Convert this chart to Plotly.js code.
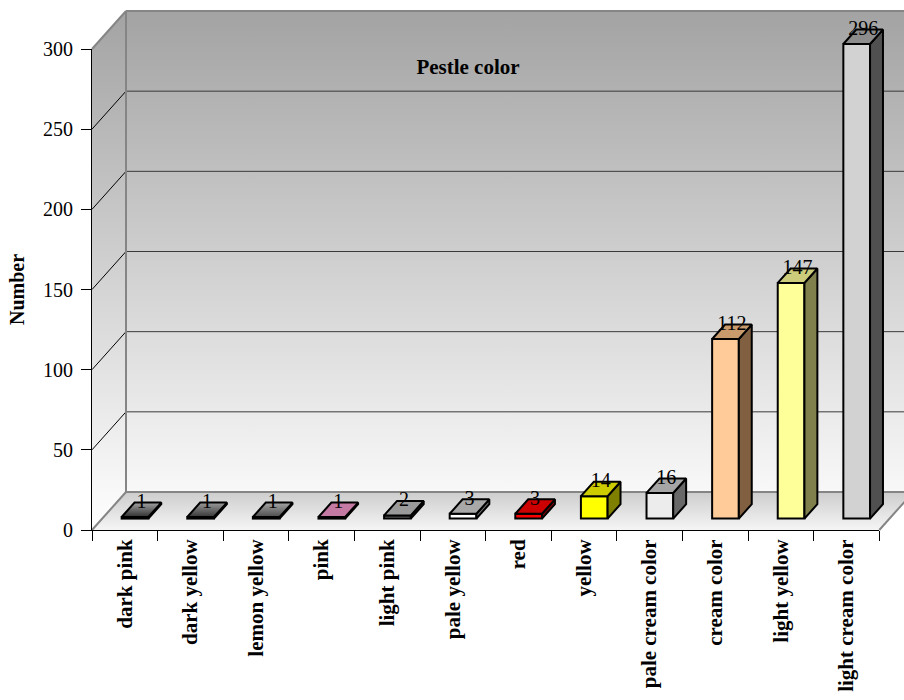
<!DOCTYPE html>
<html>
<head>
<meta charset="utf-8">
<script src="https://cdn.plot.ly/plotly-3.0.1.min.js"></script>
<style>
  html, body { margin: 0; padding: 0; background: #ffffff; }
  #chart { width: 904px; height: 700px; }
</style>
</head>
<body>
<div id="chart"></div>
<script>
// Pestle colour counts
const categories = ['dark pink', 'dark yellow', 'lemon yellow', 'pink', 'light pink', 'pale yellow',
                    'red', 'yellow', 'pale cream color', 'cream color', 'light yellow', 'light cream color'];
const counts = [1, 1, 1, 1, 2, 3, 3, 14, 16, 112, 147, 296];
const valueTicks = [0, 50, 100, 150, 200, 250, 300];

// Face colours of each 3-D bar: front, top (solid or [front edge, back edge] shade), side
const frontColors = ['#2c2c2c', '#2c2c2c', '#363636', '#e08cb8', '#7a7a7a', '#ffffff',
                     '#ff0000', '#ffff00', '#ececec', '#ffcc99', '#ffff99', '#d2d2d2'];
const topColors = [['#303030', '#a2a2a2'], ['#363636', '#9c9c9c'], ['#4c4c4c', '#a6a6a6'], '#c47aa2',
                   '#9a9a9a', '#a8a8a8', '#cc0000', '#cccc00', '#a6a6a6', '#c99a6c', '#cccc7a', '#8c8c8c'];
const sideColors = ['#1c1c1c', '#1c1c1c', '#242424', '#7a4560', '#4a4a4a', '#6c6c6c',
                    '#800000', '#808000', '#686868', '#806040', '#80804c', '#505050'];

const FONT = 'Liberation Serif, "Times New Roman", serif';

// ---- page geometry (pixels) ----
const W = 904, H = 700;
const FRONT_LEFT = 92, FRONT_RIGHT = 879.3;   // front edge of the floor
const ZERO_Y = 530, TOP_Y = 49;              // front value axis, 0 and max
const DEPTH_X = 34, DEPTH_Y = 38;            // oblique depth of the box
const PAD = 4;                               // room around the box for edge strokes

const n = categories.length;
const yMax = valueTicks[valueTicks.length - 1];
const pxPerCat = (FRONT_RIGHT - FRONT_LEFT) / n;
const pxPerVal = (ZERO_Y - TOP_Y) / yMax;
const dX = DEPTH_X / pxPerCat;               // depth in category units
const dY = DEPTH_Y / pxPerVal;               // depth in value units
const xLo = -0.5, xHi = n - 0.5;
const xFar = xLo + (W - FRONT_LEFT) / pxPerCat + 1;
const yFar = yMax + dY;

// bar footprint: width in categories, front and back depth fractions
const BAR_W = 0.407, F0 = 0.3, F1 = 0.68;

// box subplot (walls, floor, bars) ranges with padding
const boxX = [xLo - PAD / pxPerCat, xLo + (W - FRONT_LEFT) / pxPerCat];
const boxY = [-PAD / pxPerVal, yFar + PAD / pxPerVal];
const boxDomX = [(FRONT_LEFT - PAD) / W, 1];
const boxDomY = [(H - ZERO_Y - PAD) / H, (H - (TOP_Y - DEPTH_Y) + PAD) / H];

const traces = [];

function poly(xs, ys, extra, axes) {
  return Object.assign({
    type: 'scatter', mode: 'lines', x: xs, y: ys, fill: 'toself',
    line: { width: 0 }, hoverinfo: 'skip', showlegend: false,
    xaxis: axes ? axes[0] : 'x', yaxis: axes ? axes[1] : 'y'
  }, extra);
}
function segments(list, color, width, axes) {
  const xs = [], ys = [];
  list.forEach(s => { xs.push(s[0], s[2], null); ys.push(s[1], s[3], null); });
  return {
    type: 'scatter', mode: 'lines', x: xs, y: ys, line: { color: color, width: width },
    hoverinfo: 'skip', showlegend: false,
    xaxis: axes ? axes[0] : 'x', yaxis: axes ? axes[1] : 'y'
  };
}

const wallShade = { type: 'vertical', start: 0, stop: yFar, colorscale: [[0, '#ffffff'], [1, '#a3a3a3']] };

// left side wall
traces.push(poly([xLo, xLo, xLo + dX, xLo + dX], [0, yMax, yFar, dY], { fillgradient: wallShade }));
// back wall
traces.push(poly([xLo + dX, xLo + dX, xFar, xFar], [dY, yFar, yFar, dY], { fillgradient: wallShade }));
// floor
traces.push(poly([xLo, xHi, xHi + dX, xLo + dX], [0, 0, dY, dY], {
  fillgradient: { type: 'vertical', start: 0, stop: dY, colorscale: [[0, '#f5f5f5'], [1, '#cdcdcd']] }
}));

// gridlines on back wall and side wall
const inner = valueTicks.filter(v => v > 0 && v < yMax);
traces.push(segments(inner.map(v => [xLo + dX, v + dY, xFar, v + dY]), '#3a3a3a', 1));
traces.push(segments(inner.map(v => [xLo, v, xLo + dX, v + dY]), '#000000', 1));

// box edges
traces.push(segments([
  [xLo, yMax, xLo + dX, yFar],
  [xLo + dX, yFar, xFar, yFar],
  [xLo + dX, dY, xLo + dX, yFar],
  [xLo + dX, dY, xFar, dY],
  [xLo, 0, xLo + dX, dY],
  [xHi, 0, xHi + dX, dY]
], '#858585', 2));

// ---- bars (overlay subplot) ----
const barAxes = ['x2', 'y2'];
traces.push({
  type: 'bar', x: counts.map((v, i) => i + F0 * dX), y: counts, base: F0 * dY, width: BAR_W,
  marker: { color: frontColors, line: { color: '#000000', width: 2 } },
  hoverinfo: 'skip', showlegend: false, xaxis: 'x2', yaxis: 'y2'
});
const depthX = (F1 - F0) * dX, depthY = (F1 - F0) * dY;
counts.forEach((v, i) => {
  const xl = i + F0 * dX - BAR_W / 2, xr = i + F0 * dX + BAR_W / 2;
  const yb = F0 * dY, yt = v + F0 * dY;
  const edge = { color: '#000000', width: 2 };
  // side face
  traces.push(poly([xr, xr + depthX, xr + depthX, xr, xr], [yb, yb + depthY, yt + depthY, yt, yb],
    { fillcolor: sideColors[i], line: edge }, barAxes));
  // top face
  const tc = topColors[i];
  const topStyle = Array.isArray(tc)
    ? { fillgradient: { type: 'vertical', colorscale: [[0, tc[0]], [1, tc[1]]] }, line: edge }
    : { fillcolor: tc, line: edge };
  traces.push(poly([xl, xr, xr + depthX, xl + depthX, xl], [yt, yt, yt + depthY, yt + depthY, yt],
    topStyle, barAxes));
});

// value labels, centred over each bar's top face
const LABEL_LIFT = 7 / pxPerVal;
traces.push({
  type: 'scatter', mode: 'text', xaxis: 'x2', yaxis: 'y2',
  x: counts.map((v, i) => i + (F0 + F1) / 2 * dX),
  y: counts.map(v => v + (F0 + F1) / 2 * dY + LABEL_LIFT),
  text: counts.map(String), textposition: 'middle center',
  textfont: { family: FONT, size: 20, color: '#000000' },
  cliponaxis: false, hoverinfo: 'skip', showlegend: false
});

// front-plane axes carry the tick labels; one empty point keeps that subplot alive
traces.push({
  type: 'scatter', mode: 'markers', x: [xLo], y: [0], xaxis: 'x3', yaxis: 'y3',
  marker: { size: 0, opacity: 0 }, hoverinfo: 'skip', showlegend: false
});

const hidden = { visible: false, fixedrange: true };
const layout = {
  width: W, height: H,
  margin: { l: 0, r: 0, t: 0, b: 0, pad: 0 },
  paper_bgcolor: '#ffffff', plot_bgcolor: 'rgba(0,0,0,0)',
  showlegend: false, hovermode: false,
  title: {
    text: 'Pestle color', x: 468 / W, xanchor: 'center', y: 1 - 67 / H, yanchor: 'middle',
    font: { family: FONT, size: 21, color: '#000000', weight: 'bold' }
  },
  xaxis: Object.assign({ domain: boxDomX, range: boxX, anchor: 'y' }, hidden),
  yaxis: Object.assign({ domain: boxDomY, range: boxY, anchor: 'x' }, hidden),
  xaxis2: Object.assign({ overlaying: 'x', range: boxX, anchor: 'y2', type: 'linear' }, hidden),
  yaxis2: Object.assign({ overlaying: 'y', range: boxY, anchor: 'x2' }, hidden),
  xaxis3: {
    domain: [FRONT_LEFT / W, FRONT_RIGHT / W], range: [xLo, xHi], anchor: 'y3',
    tickmode: 'array', tickvals: categories.map((c, i) => i), ticktext: categories,
    ticks: '', tickangle: -90,
    tickfont: { family: FONT, size: 21, color: '#000000', weight: 'bold' },
    minor: {
      tickmode: 'array', tickvals: categories.map((c, i) => i - 0.5).concat([xHi]),
      ticks: 'outside', ticklen: 10, tickwidth: 1, tickcolor: '#000000', showgrid: false
    },
    showline: true, linecolor: '#000000', linewidth: 1,
    showgrid: false, zeroline: false, fixedrange: true
  },
  yaxis3: {
    domain: [(H - ZERO_Y) / H, (H - TOP_Y) / H], range: [0, yMax], anchor: 'x3',
    tickmode: 'array', tickvals: valueTicks,
    ticks: 'outside', ticklen: 10, tickwidth: 1, tickcolor: '#000000', ticklabelstandoff: 4,
    tickfont: { family: FONT, size: 20, color: '#000000' },
    showline: true, linecolor: '#000000', linewidth: 1,
    showgrid: false, zeroline: false, fixedrange: true,
    title: { text: 'Number', standoff: 13, font: { family: FONT, size: 20, color: '#000000', weight: 'bold' } }
  }
};

Plotly.newPlot('chart', traces, layout, { staticPlot: true, displayModeBar: false });
</script>
</body>
</html>
